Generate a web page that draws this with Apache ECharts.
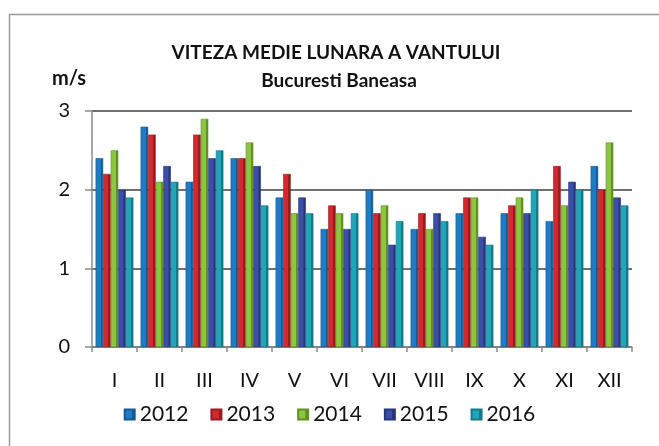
<!DOCTYPE html>
<html>
<head>
<meta charset="utf-8">
<script src="https://cdn.jsdelivr.net/npm/echarts@6/dist/echarts.min.js"></script>
<style>
  html, body { margin: 0; padding: 0; background: #fff; }
  #chart { width: 659px; height: 446px; }
</style>
</head>
<body>
<div id="chart"></div>
<script>
// Monthly mean wind speed, Bucuresti Baneasa station (m/s)
const months = ['I', 'II', 'III', 'IV', 'V', 'VI', 'VII', 'VIII', 'IX', 'X', 'XI', 'XII'];
const years = ['2012', '2013', '2014', '2015', '2016'];
const v2012 = [2.4, 2.8, 2.1, 2.4, 1.9, 1.5, 2.0, 1.5, 1.7, 1.7, 1.6, 2.3];
const v2013 = [2.2, 2.7, 2.7, 2.4, 2.2, 1.8, 1.7, 1.7, 1.9, 1.8, 2.3, 2.0];
const v2014 = [2.5, 2.1, 2.9, 2.6, 1.7, 1.7, 1.8, 1.5, 1.9, 1.9, 1.8, 2.6];
const v2015 = [2.0, 2.3, 2.4, 2.3, 1.9, 1.5, 1.3, 1.7, 1.4, 1.7, 2.1, 1.9];
const v2016 = [1.9, 2.1, 2.5, 1.8, 1.7, 1.7, 1.6, 1.6, 1.3, 2.0, 2.0, 1.8];
const yTicks = [0, 1, 2, 3];

const seriesValues = [v2012, v2013, v2014, v2015, v2016];
const faceColors = ['#1f7bc4', '#d2282f', '#8cc63f', '#3b4ea8', '#1fa6b8'];
const sideColors = ['#145a92', '#9a1a20', '#5f8f26', '#27357a', '#147a88'];

const FONT = 'Lato, "Open Sans", sans-serif';

const chart = echarts.init(document.getElementById('chart'), null, { renderer: 'canvas' });

// each bar gets a darker right strip and outline for a shaded prism look
const series = years.map((y, i) => ({
  name: y,
  type: 'bar',
  data: seriesValues[i],
  barGap: '0%',
  barCategoryGap: '16%',
  itemStyle: {
    color: {
      type: 'linear', x: 0, y: 0, x2: 1, y2: 0,
      colorStops: [
        { offset: 0, color: faceColors[i] },
        { offset: 0.68, color: faceColors[i] },
        { offset: 0.7, color: sideColors[i] },
        { offset: 1, color: sideColors[i] }
      ]
    },
    borderColor: sideColors[i],
    borderWidth: 0.6
  },
  emphasis: { disabled: true }
}));

chart.setOption({
  animation: false,
  color: faceColors,
  title: [
    {
      text: 'VITEZA MEDIE LUNARA A VANTULUI',
      left: 331, top: 38, textAlign: 'center',
      textStyle: { fontFamily: FONT, fontSize: 19, fontWeight: 'bold', color: '#111' }
    },
    {
      text: 'Bucuresti Baneasa',
      left: 334, top: 66, textAlign: 'center',
      textStyle: { fontFamily: FONT, fontSize: 19, fontWeight: 'bold', color: '#111' }
    },
    {
      text: 'm/s',
      left: 47, top: 64,
      textStyle: { fontFamily: FONT, fontSize: 20, fontWeight: 'bold', color: '#111' }
    }
  ],
  legend: {
    data: years,
    left: 'center',
    top: 399,
    itemWidth: 10,
    itemHeight: 10,
    itemGap: 22,
    icon: 'rect',
    textStyle: { fontFamily: FONT, fontSize: 21, color: '#111', padding: [0, 0, 0, 0] }
  },
  grid: { left: 92, right: 27, top: 111, bottom: 99, containLabel: false },
  xAxis: {
    type: 'category',
    data: months,
    boundaryGap: true,
    axisLine: { lineStyle: { color: '#8a8a8a', width: 1.5 } },
    axisTick: { show: true, length: 5, lineStyle: { color: '#8a8a8a', width: 1.5 } },
    axisLabel: { fontFamily: FONT, fontSize: 20, color: '#111', margin: 24 }
  },
  yAxis: {
    type: 'value',
    min: yTicks[0],
    max: yTicks[yTicks.length - 1],
    interval: 1,
    axisLine: { show: true, lineStyle: { color: '#8a8a8a', width: 1.5 } },
    axisTick: { show: true, length: 7, lineStyle: { color: '#8a8a8a', width: 1.5 } },
    axisLabel: { fontFamily: FONT, fontSize: 20, color: '#111', margin: 22 },
    splitLine: { lineStyle: { color: '#6f6f6f', width: 2 } }
  },
  graphic: [
    {
      type: 'rect',
      shape: { x: 9.5, y: 14.5, width: 700, height: 500 },
      style: { fill: 'none', stroke: '#9a9a9a', lineWidth: 1.5 },
      silent: true, z: -1
    }
  ],
  series: series
});
</script>
</body>
</html>
